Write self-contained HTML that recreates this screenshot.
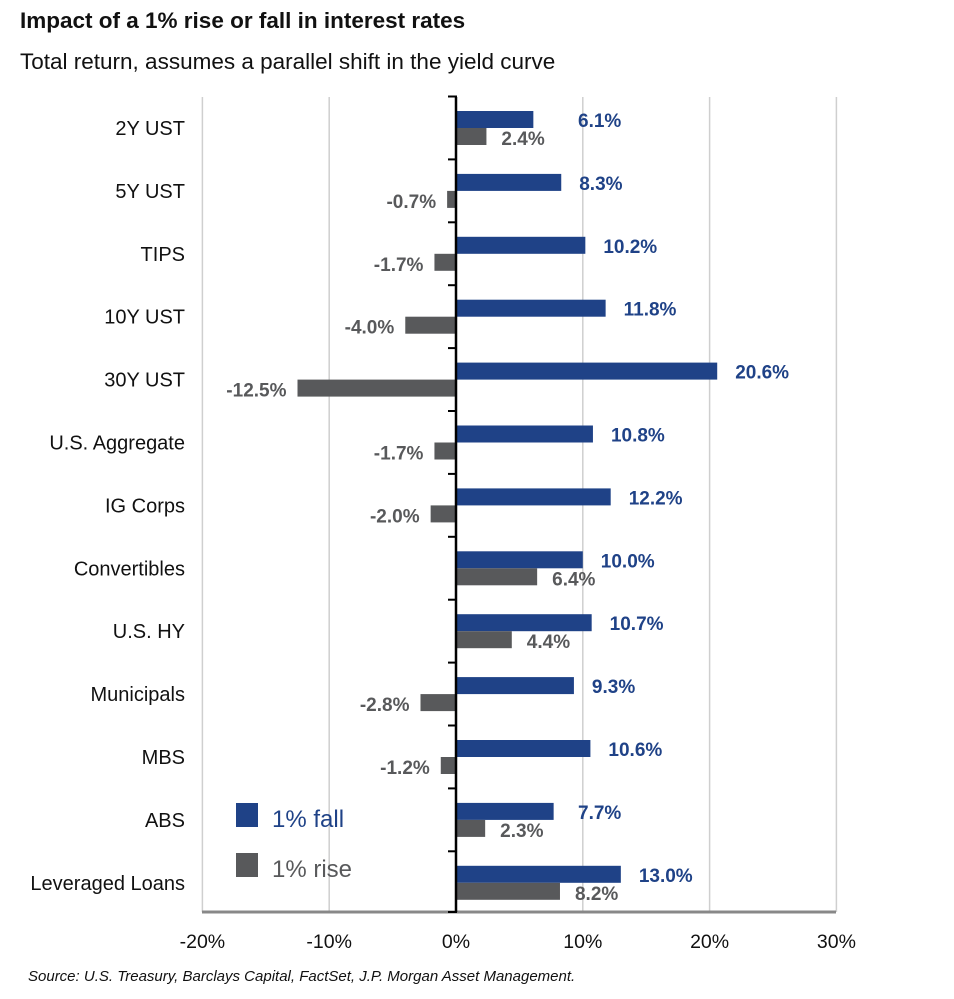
<!DOCTYPE html>
<html><head><meta charset="utf-8"><style>
body{margin:0;background:#fff;width:954px;height:994px;overflow:hidden;font-family:"Liberation Sans",Arial,sans-serif}
</style></head><body>
<svg width="954" height="994" id="c">
<text x="20" y="28" font-size="22.5" font-weight="bold" fill="#111">Impact of a 1% rise or fall in interest rates</text>
<text x="20" y="69" font-size="22.5" fill="#111">Total return, assumes a parallel shift in the yield curve</text>
<text x="28" y="981" font-size="15" font-style="italic" fill="#111">Source: U.S. Treasury, Barclays Capital, FactSet, J.P. Morgan Asset Management.</text>
<g id="plot"></g>
<rect x="236" y="803" width="22" height="24" fill="#1f4287"/>
<text x="272" y="827" font-size="24" fill="#1f4287">1% fall</text>
<rect x="236" y="853" width="22" height="24" fill="#58595b"/>
<text x="272" y="877" font-size="24" fill="#58595b">1% rise</text>
</svg>
<script>
const categories=["2Y UST","5Y UST","TIPS","10Y UST","30Y UST","U.S. Aggregate","IG Corps","Convertibles","U.S. HY","Municipals","MBS","ABS","Leveraged Loans"];
const fallValues=[6.1,8.3,10.2,11.8,20.6,10.8,12.2,10.0,10.7,9.3,10.6,7.7,13.0];
const riseValues=[2.4,-0.7,-1.7,-4.0,-12.5,-1.7,-2.0,6.4,4.4,-2.8,-1.2,2.3,8.2];
const xTicks=[-20,-10,0,10,20,30];
const NS="http://www.w3.org/2000/svg";
const g=document.getElementById('plot');
const x=v=>456+v*12.68;
const yc=i=>128+i*62.9;
const top0=97,bot=912;
function mk(t,a,txt){const e=document.createElementNS(NS,t);for(const k in a)e.setAttribute(k,a[k]);if(txt!==undefined)e.textContent=txt;g.appendChild(e);return e;}
xTicks.forEach(t=>{
 if(t!==0){const l=mk('line',{x1:x(t),x2:x(t),y1:top0,y2:bot,stroke:'#cfcfcf','stroke-width':1.5});
 
 }
 const tx=mk('text',{x:x(t),y:948,'font-size':19.5,'text-anchor':'middle',fill:'#111'},t+'%');
 
 
});
const ax=mk('line',{x1:202,x2:836,y1:bot,y2:bot,stroke:'#888','stroke-width':3});


categories.forEach((c,i)=>{
 const y=yc(i);
 const lab=mk('text',{x:185,y:y+7,'font-size':20,'text-anchor':'end',fill:'#111'},c);
 
 
 const f=fallValues[i];
 const bf=mk('rect',{x:Math.min(x(0),x(f)),y:y-17,width:Math.abs(x(f)-x(0)),height:17,fill:'#1f4287'});
 
 
 const lf=mk('text',{x:Math.max(x(f)+18,578),y:y-1,'font-size':19,'font-weight':'bold',fill:'#1f4287'},f.toFixed(1)+'%');
 
 
 const r=riseValues[i];
 const br=mk('rect',{x:Math.min(x(0),x(r)),y:y,width:Math.abs(x(r)-x(0)),height:17,fill:'#58595b'});
 
 
 let lr;
 if(r>=0) lr=mk('text',{x:Math.max(x(r)+15,475),y:y+17,'font-size':19,'font-weight':'bold',fill:'#58595b'},r.toFixed(1)+'%');
 else lr=mk('text',{x:x(r)-11,y:y+17,'font-size':19,'font-weight':'bold',fill:'#58595b','text-anchor':'end'},r.toFixed(1)+'%');
 
 
 const tk=mk('line',{x1:448,x2:457,y1:y-31.5,y2:y-31.5,stroke:'#000','stroke-width':2});
 
 
});
const tk2=mk('line',{x1:448,x2:457,y1:bot,y2:bot,stroke:'#000','stroke-width':2});


const za=mk('line',{x1:x(0),x2:x(0),y1:top0,y2:bot,stroke:'#000','stroke-width':2.5});


</script>
</body></html>
